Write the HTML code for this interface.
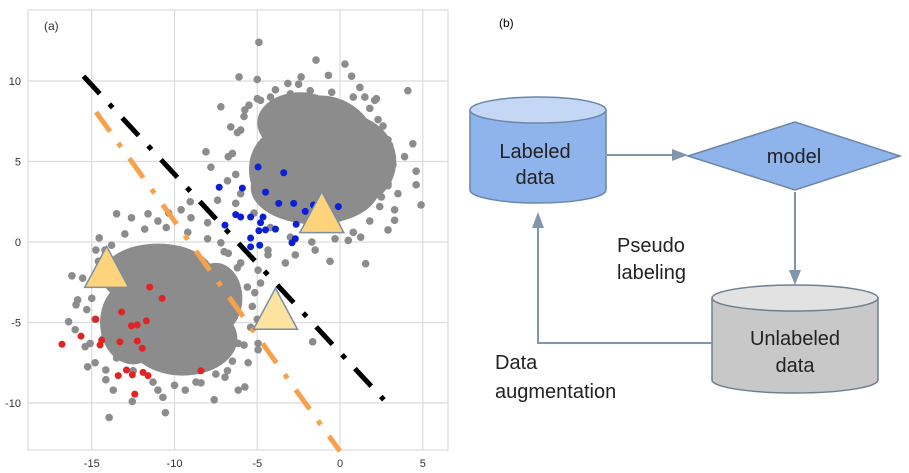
<!DOCTYPE html>
<html><head><meta charset="utf-8">
<style>
html,body{margin:0;padding:0;background:#fff;width:909px;height:473px;overflow:hidden}
svg{display:block}
text{font-family:"Liberation Sans",sans-serif}
</style></head>
<body>
<svg id="root" width="909" height="473" viewBox="0 0 909 473">
  <g id="chart"></g>
  <g id="diagram">
    <text x="499" y="27" font-family="Liberation Serif,serif" font-size="12">(b)</text>
    <g>
      <path d="M470,110 L470,190 A68,13 0 0 0 606,190 L606,110 Z" fill="#8fb4ec" stroke="#6a86a8" stroke-width="1.5"/>
      <ellipse cx="538" cy="110" rx="68" ry="13" fill="#c4d8f5" stroke="#6a86a8" stroke-width="1.5"/>
      <text x="535" y="158" font-size="20" text-anchor="middle" fill="#222">Labeled</text>
      <text x="535" y="184" font-size="20" text-anchor="middle" fill="#222">data</text>
    </g>
    <g>
      <polygon points="688,156 795,122 900,156 795,190" fill="#8fb4ec" stroke="#6a86a8" stroke-width="1.5"/>
      <text x="794" y="163" font-size="20" text-anchor="middle" fill="#222">model</text>
    </g>
    <g>
      <path d="M712,298 L712,380 A83,13 0 0 0 878,380 L878,298 Z" fill="#c8c8c8" stroke="#6f7f90" stroke-width="1.5"/>
      <ellipse cx="795" cy="298" rx="83" ry="13" fill="#e2e2e2" stroke="#6f7f90" stroke-width="1.5"/>
      <text x="795" y="345" font-size="20" text-anchor="middle" fill="#222">Unlabeled</text>
      <text x="795" y="372" font-size="20" text-anchor="middle" fill="#222">data</text>
    </g>
    <g stroke="#8196ad" stroke-width="2" fill="none">
      <line x1="607" y1="155" x2="675" y2="155"/>
      <line x1="795" y1="192" x2="795" y2="272"/>
      <polyline points="712,343 538,343 538,226"/>
    </g>
    <g fill="#8196ad">
      <polygon points="688,155 672,149 672,161"/>
      <polygon points="795,285 789,270 801,270"/>
      <polygon points="538,212 532,228 544,228"/>
    </g>
    <text x="617" y="252" font-size="20" fill="#222">Pseudo</text>
    <text x="617" y="279" font-size="20" fill="#222">labeling</text>
    <text x="495" y="369" font-size="20" fill="#222">Data</text>
    <text x="495" y="398" font-size="20" fill="#222">augmentation</text>
  </g>
</svg>
<script>
const xTicks=[-15,-10,-5,0,5];
const yTicks=[10,5,0,-5,-10];
const coreA=[[-1.2,5.3,3.6,3.8],[-1.5,3.4,3.9,2.3],[0.1,5.0,3.3,3.0],[-2.4,7.4,2.6,1.9],[-3.5,4.5,2.0,2.5]];
const coreB=[[-10.3,-4.2,3.5,3.8],[-11,-2.1,3.4,2.0],[-9.5,-6.0,3.3,2.3],[-12.5,-5,2.0,2.6],[-7.5,-3.5,1.6,2.2]];
const grayX=[-4.9,-1.45,0.3,-6.1,-5.0,0.7,4.1,-7.2,4.4,-8.1,-7.8,4.6,4.6,4.9,3.3,2.9,1.55,-0.6,-2.7,-3.3,-6.75,-6.6,-5.75,1.5,2.3,3.9,3.3,-7.4,-6.3,-4.35,-1.5,0.5,1.25,-0.7,-2.35,-3.9,-3.15,2.1,-4.8,-6.0,2.9,3.1,2.9,2.5,
 -13.5,-12.6,-11.6,-10.35,-9.6,-9.05,-14.55,-14.75,-16.2,-15.55,-15.85,-15.95,-16.4,-16.0,-15.1,-15.25,-14.8,-14.15,-13.95,-13.7,-12.55,-10.55,-10.7,-11.0,-9.35,-7.6,-6.15,-5.75,-4.95,-4.95,-5.55,-6.95,-8.4,-4.35,-4.95,-4.8,-5.15,-6.0,-6.75,-7.2,-8.0,-1.65,-6.15,-15.4,-14.15,
 -5.5,-4.2,-3.0,-1.8,-0.5,0.8,1.8,2.6,3.0,3.2,2.9,2.4,1.8,0.8,-0.3,-1.7,-3.0,-4.2,-5.2,-6.0,-6.3,-6.5,-6.2,-5.8,-5.0,-2.5,1.2,2.2,3.5,-6.8,
 -14.2,-13.0,-11.8,-10.5,-9.2,-8.0,-7.0,-6.2,-5.6,-5.3,-5.4,-5.8,-6.5,-7.5,-8.7,-10.0,-11.3,-12.5,-13.5,-14.3,-14.8,-15.0,-14.8,-14.6,-9.0,-11.0,-13.8,-6.8,-15.3,-5.0];
const grayY=[12.4,11.3,11.05,10.25,10.1,10.3,9.4,8.4,6.1,5.6,4.65,4.4,3.55,2.3,1.35,0.75,-1.35,-1.2,-0.8,-1.3,5.3,7.15,8.2,9.0,7.6,5.3,2.0,2.6,2.4,-0.5,-0.5,0.1,0.3,10.35,10.25,9.45,9.85,8.8,8.8,6.95,6.35,4.65,3.65,2.8,
 1.75,1.5,1.75,1.8,2.0,2.5,0.25,-0.5,-2.1,-2.25,-3.6,-3.9,-4.95,-5.45,-6.3,-7.75,-7.5,-8.55,-10.9,-9.2,-9.9,-10.6,-9.65,-9.2,-9.2,-9.8,-9.2,-9.0,-6.7,-6.3,-7.5,-8.4,-8.75,-0.8,-1.75,-2.55,-3.15,-1.3,-0.7,-0.05,1.2,-6.2,-6.3,-6.5,-7.95,
 8.5,9.0,9.2,9.4,9.3,9.0,8.3,7.2,6.0,4.8,3.5,2.2,1.3,0.6,0.2,0.0,0.3,0.9,1.8,3.0,4.2,5.5,6.8,7.8,8.9,9.8,9.6,8.9,3.0,3.8,
 -0.5,0.5,0.8,0.9,0.6,0.2,-0.6,-1.6,-2.8,-4.0,-5.3,-6.4,-7.4,-8.2,-8.7,-8.9,-8.7,-8.0,-7.2,-6.0,-4.8,-3.5,-2.2,-1.2,1.5,1.3,-0.2,-8.0,-4.2,-4.8];
const blueX=[-4.95,-3.4,-7.3,-5.9,-4.5,-3.7,-2.8,-1.6,-0.1,-2.1,-6.3,-6.0,-5.4,-4.65,-4.8,-2.65,-3.9,-4.5,-4.9,-5.4,-2.7,-2.9,-4.85,-5.4,-6.95];
const blueY=[4.66,4.3,3.4,3.35,3.1,2.4,2.4,2.3,2.2,1.9,1.7,1.55,1.55,1.55,1.2,1.1,0.8,0.75,0.7,0.25,0.2,-0.05,-0.2,-0.3,1.05];
const redX=[-11.5,-10.75,-13.2,-14.75,-11.7,-12.6,-12.25,-16.8,-15.65,-14.4,-14.5,-13.3,-12.25,-11.95,-12.9,-13.4,-12.55,-11.9,-11.6,-12.4,-8.4];
const redY=[-2.8,-3.5,-4.35,-4.8,-4.9,-5.2,-5.15,-6.35,-5.85,-6.1,-6.4,-6.2,-6.15,-6.6,-7.95,-8.3,-8.25,-8.1,-8.3,-9.45,-8.0];
const triX=[-1.1,-14.1,-3.9];
const triY=[1.7,-1.7,-4.3];
const triFill=["#fdd37c","#fdd37c","#fde3a0"];
const blackLine=[[-15.5,10.3],[2.65,-9.8]];
const orangeLine=[[-14.74,8.07],[0,-13.0]];

const NS="http://www.w3.org/2000/svg";
const X0=28,X1=448,Y0=10,Y1=450;
const sx=v=>340+16.55*v;
const sy=v=>242-16.1*v;
const g=document.getElementById('chart');
function mk(tag,attrs,parent){const e=document.createElementNS(NS,tag);for(const k in attrs)e.setAttribute(k,attrs[k]);(parent||g).appendChild(e);return e;}

const bg=mk('rect',{x:X0,y:Y0,width:X1-X0,height:Y1-Y0,fill:'#fff',stroke:'#d4d4d4'});


xTicks.forEach(t=>{
  const l=mk('line',{x1:sx(t),x2:sx(t),y1:Y0,y2:Y1,stroke:'#dcdcdc','stroke-width':1.2});
  
  
  const tx=mk('text',{x:sx(t),y:467,'font-size':11,'text-anchor':'middle',fill:'#333'});
  tx.textContent=t;
  
  
});
yTicks.forEach(t=>{
  const l=mk('line',{x1:X0,x2:X1,y1:sy(t),y2:sy(t),stroke:'#dcdcdc','stroke-width':1.2});
  
  
  const tx=mk('text',{x:21,y:sy(t)+4,'font-size':11,'text-anchor':'end',fill:'#333'});
  tx.textContent=t;
  
  
});
const pa=mk('text',{x:44,y:30,'font-size':12,'font-family':'Liberation Serif,serif',fill:'#333'});
pa.textContent='(a)';



const gray='#8c8c8c';
coreA.concat(coreB).forEach(c=>{
  const e=mk('ellipse',{cx:sx(c[0]),cy:sy(c[1]),rx:c[2]*16.55,ry:c[3]*16.1,fill:gray});
  
  
});
grayX.forEach((v,i)=>{
  const c=mk('circle',{cx:sx(v),cy:sy(grayY[i]),r:3.8,fill:gray});
  
  
});
function line(p,color,name){
  const l=mk('line',{x1:sx(p[0][0]),y1:sy(p[0][1]),x2:sx(p[1][0]),y2:sy(p[1][1]),stroke:color,'stroke-width':5,'stroke-dasharray':'24 14 5 14'});
  
  
}
line(orangeLine,'#f7a24a','orange-decision-boundary');
line(blackLine,'#000','black-decision-boundary');
blueX.forEach((v,i)=>{
  const c=mk('circle',{cx:sx(v),cy:sy(blueY[i]),r:3.5,fill:'#0a1fd6'});
  
  
});
redX.forEach((v,i)=>{
  const c=mk('circle',{cx:sx(v),cy:sy(redY[i]),r:3.5,fill:'#e02424'});
  
  
});
triX.forEach((v,i)=>{
  const cx=sx(v),cy=sy(triY[i]);
  const p=mk('polygon',{points:`${cx},${cy-23} ${cx+22},${cy+18} ${cx-22},${cy+18}`,fill:triFill[i],stroke:'#7d8ea3','stroke-width':1.5});
  
  
});
</script>
</body></html>
